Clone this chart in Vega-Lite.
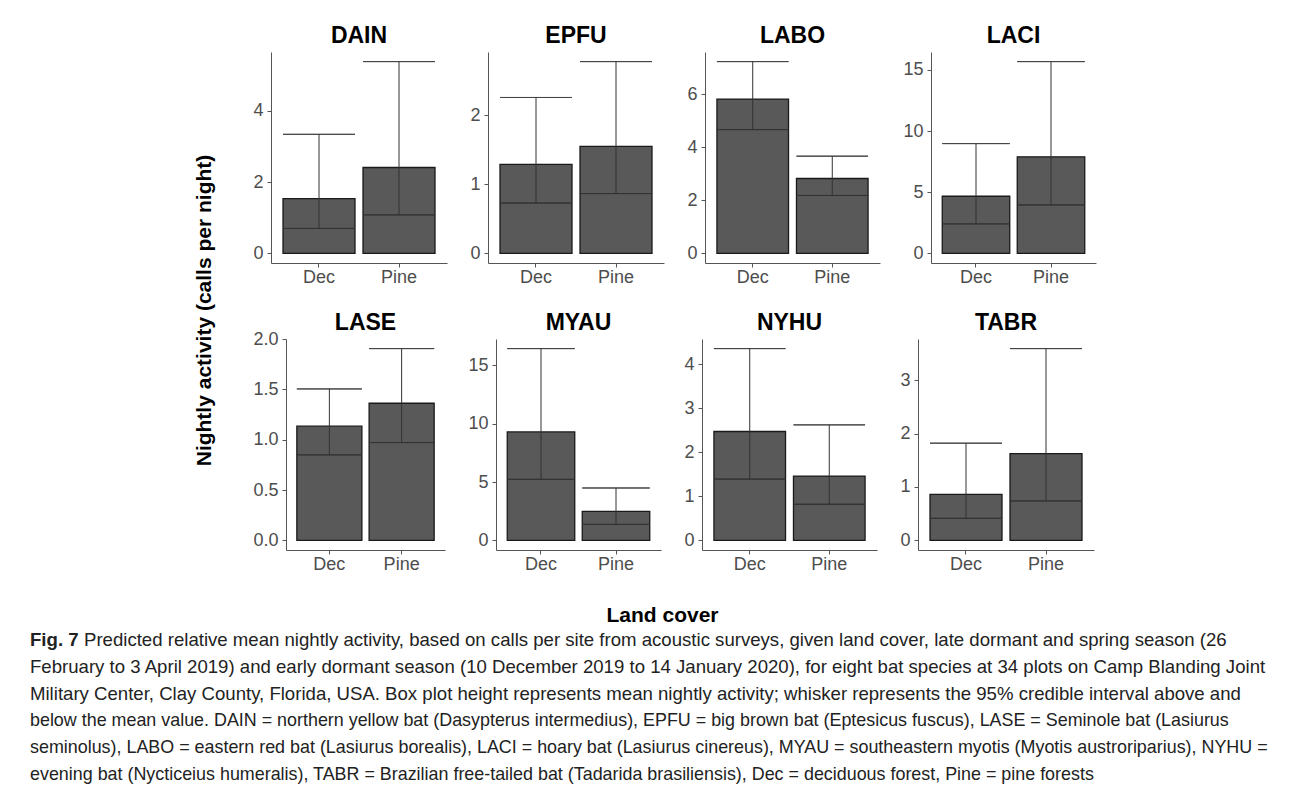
{
  "$schema": "https://vega.github.io/schema/vega-lite/v6.json",
  "background": "white",
  "padding": {"left": 30, "top": 25, "right": 5, "bottom": 0},
  "datasets": {
    "bats": [
      {"species": "DAIN", "cover": "Dec", "mean": 1.535, "lower": 0.70, "upper": 3.34},
      {"species": "DAIN", "cover": "Pine", "mean": 2.41, "lower": 1.08, "upper": 5.38},
      {"species": "EPFU", "cover": "Dec", "mean": 1.29, "lower": 0.73, "upper": 2.26},
      {"species": "EPFU", "cover": "Pine", "mean": 1.55, "lower": 0.867, "upper": 2.78},
      {"species": "LABO", "cover": "Dec", "mean": 5.81, "lower": 4.66, "upper": 7.22},
      {"species": "LABO", "cover": "Pine", "mean": 2.82, "lower": 2.18, "upper": 3.66},
      {"species": "LACI", "cover": "Dec", "mean": 4.67, "lower": 2.41, "upper": 8.97},
      {"species": "LACI", "cover": "Pine", "mean": 7.89, "lower": 3.96, "upper": 15.67},
      {"species": "LASE", "cover": "Dec", "mean": 1.135, "lower": 0.85, "upper": 1.505},
      {"species": "LASE", "cover": "Pine", "mean": 1.363, "lower": 0.972, "upper": 1.906},
      {"species": "MYAU", "cover": "Dec", "mean": 9.29, "lower": 5.23, "upper": 16.43},
      {"species": "MYAU", "cover": "Pine", "mean": 2.49, "lower": 1.37, "upper": 4.49},
      {"species": "NYHU", "cover": "Dec", "mean": 2.47, "lower": 1.39, "upper": 4.35},
      {"species": "NYHU", "cover": "Pine", "mean": 1.46, "lower": 0.82, "upper": 2.62},
      {"species": "TABR", "cover": "Dec", "mean": 0.863, "lower": 0.413, "upper": 1.82},
      {"species": "TABR", "cover": "Pine", "mean": 1.625, "lower": 0.739, "upper": 3.59}
    ],
    "caption": [
      {"line": 1, "text": "Predicted relative mean nightly activity, based on calls per site from acoustic surveys, given land cover, late dormant and spring season (26"},
      {"line": 2, "text": "February to 3 April 2019) and early dormant season (10 December 2019 to 14 January 2020), for eight bat species at 34 plots on Camp Blanding Joint"},
      {"line": 3, "text": "Military Center, Clay County, Florida, USA. Box plot height represents mean nightly activity; whisker represents the 95% credible interval above and"},
      {"line": 4, "text": "below the mean value. DAIN = northern yellow bat (Dasypterus intermedius), EPFU = big brown bat (Eptesicus fuscus), LASE = Seminole bat (Lasiurus"},
      {"line": 5, "text": "seminolus), LABO = eastern red bat (Lasiurus borealis), LACI = hoary bat (Lasiurus cinereus), MYAU = southeastern myotis (Myotis austroriparius), NYHU ="},
      {"line": 6, "text": "evening bat (Nycticeius humeralis), TABR = Brazilian free-tailed bat (Tadarida brasiliensis), Dec = deciduous forest, Pine = pine forests"}
    ],
    "figlabel": [{"line": 1, "text": "Fig. 7"}]
  },
  "center": false,
  "spacing": -2,
  "vconcat": [
    {
      "spacing": 0,
      "hconcat": [
        {"width": 163, "height": 10, "data": {"values": []}, "mark": "point"},
        {
          "title": {"text": "Nightly activity (calls per night)", "orient": "left", "anchor": "middle", "frame": "bounds", "fontSize": 21, "fontWeight": "bold", "font": "Liberation Sans", "color": "black", "offset": -7, "baseline": "bottom", "dx": 15},
          "vconcat": [
            {
              "title": {"text": "Land cover", "orient": "bottom", "anchor": "middle", "frame": "bounds", "fontSize": 21, "fontWeight": "bold", "font": "Liberation Sans", "color": "black", "offset": 32, "baseline": "top"},
              "data": {"name": "bats"},
              "spacing": 26,
              "vconcat": [
                {
                  "spacing": 22,
                  "align": "none",
                  "resolve": {"scale": {"y": "independent", "x": "independent"}},
                  "hconcat": [
                    {"width": 1, "height": 10, "data": {"values": []}, "mark": "point"},
                    {
                      "title": "DAIN", "width": 176, "height": 211,
                      "transform": [{"filter": "datum.species == 'DAIN'"}],
                      "encoding": {"x": {"field": "cover", "type": "nominal", "title": null, "scale": {"paddingInner": 0.1, "paddingOuter": 0.15}, "axis": {"labelAngle": 0, "labelPadding": 1}}},
                      "layer": [
                        {"mark": {"type": "bar", "fill": "#595959", "stroke": "#1a1a1a", "strokeWidth": 1.3},
                         "encoding": {"y": {"field": "mean", "type": "quantitative", "title": null, "scale": {"zero": false, "nice": false, "padding": 9.6}, "axis": {"tickCount": 4, "labelPadding": 4}}, "y2": {"datum": 0}}},
                        {"mark": {"type": "bar", "fill": null, "stroke": "#333333", "strokeWidth": 1}, "encoding": {"y": {"field": "lower", "type": "quantitative"}, "y2": {"field": "lower"}}},
                        {"mark": {"type": "bar", "fill": null, "stroke": "#444444", "strokeWidth": 1}, "encoding": {"y": {"field": "upper", "type": "quantitative"}, "y2": {"field": "upper"}}},
                        {"mark": {"type": "rule", "color": "#333333", "strokeWidth": 1}, "encoding": {"y": {"field": "lower", "type": "quantitative"}, "y2": {"field": "upper"}}}
                      ]
                    },
                    {
                      "title": "EPFU", "width": 176, "height": 211,
                      "transform": [{"filter": "datum.species == 'EPFU'"}],
                      "encoding": {"x": {"field": "cover", "type": "nominal", "title": null, "scale": {"paddingInner": 0.1, "paddingOuter": 0.15}, "axis": {"labelAngle": 0, "labelPadding": 1}}},
                      "layer": [
                        {"mark": {"type": "bar", "fill": "#595959", "stroke": "#1a1a1a", "strokeWidth": 1.3},
                         "encoding": {"y": {"field": "mean", "type": "quantitative", "title": null, "scale": {"zero": false, "nice": false, "padding": 9.6}, "axis": {"tickCount": 4, "labelPadding": 4}}, "y2": {"datum": 0}}},
                        {"mark": {"type": "bar", "fill": null, "stroke": "#333333", "strokeWidth": 1}, "encoding": {"y": {"field": "lower", "type": "quantitative"}, "y2": {"field": "lower"}}},
                        {"mark": {"type": "bar", "fill": null, "stroke": "#444444", "strokeWidth": 1}, "encoding": {"y": {"field": "upper", "type": "quantitative"}, "y2": {"field": "upper"}}},
                        {"mark": {"type": "rule", "color": "#333333", "strokeWidth": 1}, "encoding": {"y": {"field": "lower", "type": "quantitative"}, "y2": {"field": "upper"}}}
                      ]
                    },
                    {
                      "title": "LABO", "width": 175, "height": 211,
                      "transform": [{"filter": "datum.species == 'LABO'"}],
                      "encoding": {"x": {"field": "cover", "type": "nominal", "title": null, "scale": {"paddingInner": 0.1, "paddingOuter": 0.15}, "axis": {"labelAngle": 0, "labelPadding": 1}}},
                      "layer": [
                        {"mark": {"type": "bar", "fill": "#595959", "stroke": "#1a1a1a", "strokeWidth": 1.3},
                         "encoding": {"y": {"field": "mean", "type": "quantitative", "title": null, "scale": {"zero": false, "nice": false, "padding": 9.6}, "axis": {"tickCount": 4, "labelPadding": 4}}, "y2": {"datum": 0}}},
                        {"mark": {"type": "bar", "fill": null, "stroke": "#333333", "strokeWidth": 1}, "encoding": {"y": {"field": "lower", "type": "quantitative"}, "y2": {"field": "lower"}}},
                        {"mark": {"type": "bar", "fill": null, "stroke": "#444444", "strokeWidth": 1}, "encoding": {"y": {"field": "upper", "type": "quantitative"}, "y2": {"field": "upper"}}},
                        {"mark": {"type": "rule", "color": "#333333", "strokeWidth": 1}, "encoding": {"y": {"field": "lower", "type": "quantitative"}, "y2": {"field": "upper"}}}
                      ]
                    },
                    {
                      "title": "LACI", "width": 165, "height": 211,
                      "transform": [{"filter": "datum.species == 'LACI'"}],
                      "encoding": {"x": {"field": "cover", "type": "nominal", "title": null, "scale": {"paddingInner": 0.1, "paddingOuter": 0.15}, "axis": {"labelAngle": 0, "labelPadding": 1}}},
                      "layer": [
                        {"mark": {"type": "bar", "fill": "#595959", "stroke": "#1a1a1a", "strokeWidth": 1.3},
                         "encoding": {"y": {"field": "mean", "type": "quantitative", "title": null, "scale": {"zero": false, "nice": false, "padding": 9.6}, "axis": {"tickCount": 4, "labelPadding": 4}}, "y2": {"datum": 0}}},
                        {"mark": {"type": "bar", "fill": null, "stroke": "#333333", "strokeWidth": 1}, "encoding": {"y": {"field": "lower", "type": "quantitative"}, "y2": {"field": "lower"}}},
                        {"mark": {"type": "bar", "fill": null, "stroke": "#444444", "strokeWidth": 1}, "encoding": {"y": {"field": "upper", "type": "quantitative"}, "y2": {"field": "upper"}}},
                        {"mark": {"type": "rule", "color": "#333333", "strokeWidth": 1}, "encoding": {"y": {"field": "lower", "type": "quantitative"}, "y2": {"field": "upper"}}}
                      ]
                    }
                  ]
                },
                {
                  "spacing": 22,
                  "align": "none",
                  "resolve": {"scale": {"y": "independent", "x": "independent"}},
                  "hconcat": [
                    {"width": 1, "height": 10, "data": {"values": []}, "mark": "point"},
                    {
                      "title": {"text": "LASE", "offset": -5}, "width": 159, "height": 211,
                      "transform": [{"filter": "datum.species == 'LASE'"}],
                      "encoding": {"x": {"field": "cover", "type": "nominal", "title": null, "scale": {"paddingInner": 0.1, "paddingOuter": 0.15}, "axis": {"labelAngle": 0, "labelPadding": 1}}},
                      "layer": [
                        {"mark": {"type": "bar", "fill": "#595959", "stroke": "#1a1a1a", "strokeWidth": 1.3},
                         "encoding": {"y": {"field": "mean", "type": "quantitative", "title": null, "scale": {"zero": false, "nice": false, "padding": 9.6}, "axis": {"tickCount": 4, "labelPadding": 4}}, "y2": {"datum": 0}}},
                        {"mark": {"type": "bar", "fill": null, "stroke": "#333333", "strokeWidth": 1}, "encoding": {"y": {"field": "lower", "type": "quantitative"}, "y2": {"field": "lower"}}},
                        {"mark": {"type": "bar", "fill": null, "stroke": "#444444", "strokeWidth": 1}, "encoding": {"y": {"field": "upper", "type": "quantitative"}, "y2": {"field": "upper"}}},
                        {"mark": {"type": "rule", "color": "#333333", "strokeWidth": 1}, "encoding": {"y": {"field": "lower", "type": "quantitative"}, "y2": {"field": "upper"}}}
                      ]
                    },
                    {
                      "title": "MYAU", "width": 165, "height": 211,
                      "transform": [{"filter": "datum.species == 'MYAU'"}],
                      "encoding": {"x": {"field": "cover", "type": "nominal", "title": null, "scale": {"paddingInner": 0.1, "paddingOuter": 0.15}, "axis": {"labelAngle": 0, "labelPadding": 1}}},
                      "layer": [
                        {"mark": {"type": "bar", "fill": "#595959", "stroke": "#1a1a1a", "strokeWidth": 1.3},
                         "encoding": {"y": {"field": "mean", "type": "quantitative", "title": null, "scale": {"zero": false, "nice": false, "padding": 9.6}, "axis": {"tickCount": 4, "labelPadding": 4}}, "y2": {"datum": 0}}},
                        {"mark": {"type": "bar", "fill": null, "stroke": "#333333", "strokeWidth": 1}, "encoding": {"y": {"field": "lower", "type": "quantitative"}, "y2": {"field": "lower"}}},
                        {"mark": {"type": "bar", "fill": null, "stroke": "#444444", "strokeWidth": 1}, "encoding": {"y": {"field": "upper", "type": "quantitative"}, "y2": {"field": "upper"}}},
                        {"mark": {"type": "rule", "color": "#333333", "strokeWidth": 1}, "encoding": {"y": {"field": "lower", "type": "quantitative"}, "y2": {"field": "upper"}}}
                      ]
                    },
                    {
                      "title": "NYHU", "width": 175, "height": 211,
                      "transform": [{"filter": "datum.species == 'NYHU'"}],
                      "encoding": {"x": {"field": "cover", "type": "nominal", "title": null, "scale": {"paddingInner": 0.1, "paddingOuter": 0.15}, "axis": {"labelAngle": 0, "labelPadding": 1}}},
                      "layer": [
                        {"mark": {"type": "bar", "fill": "#595959", "stroke": "#1a1a1a", "strokeWidth": 1.3},
                         "encoding": {"y": {"field": "mean", "type": "quantitative", "title": null, "scale": {"zero": false, "nice": false, "padding": 9.6}, "axis": {"tickCount": 4, "labelPadding": 4}}, "y2": {"datum": 0}}},
                        {"mark": {"type": "bar", "fill": null, "stroke": "#333333", "strokeWidth": 1}, "encoding": {"y": {"field": "lower", "type": "quantitative"}, "y2": {"field": "lower"}}},
                        {"mark": {"type": "bar", "fill": null, "stroke": "#444444", "strokeWidth": 1}, "encoding": {"y": {"field": "upper", "type": "quantitative"}, "y2": {"field": "upper"}}},
                        {"mark": {"type": "rule", "color": "#333333", "strokeWidth": 1}, "encoding": {"y": {"field": "lower", "type": "quantitative"}, "y2": {"field": "upper"}}}
                      ]
                    },
                    {
                      "title": "TABR", "width": 176, "height": 211,
                      "transform": [{"filter": "datum.species == 'TABR'"}],
                      "encoding": {"x": {"field": "cover", "type": "nominal", "title": null, "scale": {"paddingInner": 0.1, "paddingOuter": 0.15}, "axis": {"labelAngle": 0, "labelPadding": 1}}},
                      "layer": [
                        {"mark": {"type": "bar", "fill": "#595959", "stroke": "#1a1a1a", "strokeWidth": 1.3},
                         "encoding": {"y": {"field": "mean", "type": "quantitative", "title": null, "scale": {"zero": false, "nice": false, "padding": 9.6}, "axis": {"tickCount": 4, "labelPadding": 4}}, "y2": {"datum": 0}}},
                        {"mark": {"type": "bar", "fill": null, "stroke": "#333333", "strokeWidth": 1}, "encoding": {"y": {"field": "lower", "type": "quantitative"}, "y2": {"field": "lower"}}},
                        {"mark": {"type": "bar", "fill": null, "stroke": "#444444", "strokeWidth": 1}, "encoding": {"y": {"field": "upper", "type": "quantitative"}, "y2": {"field": "upper"}}},
                        {"mark": {"type": "rule", "color": "#333333", "strokeWidth": 1}, "encoding": {"y": {"field": "lower", "type": "quantitative"}, "y2": {"field": "upper"}}}
                      ]
                    }
                  ]
                }
              ]
            }
          ]
        }
      ]
    },
    {
      "width": 1255,
      "height": 162,
      "layer": [
        {
          "data": {"name": "figlabel"},
          "mark": {"type": "text", "align": "left", "baseline": "middle", "font": "Liberation Sans", "fontSize": 18.6, "fontWeight": "bold", "color": "#222"},
          "encoding": {
            "y": {"field": "line", "type": "ordinal", "axis": null, "scale": {"domain": [1, 2, 3, 4, 5, 6], "paddingInner": 0, "paddingOuter": 0}},
            "x": {"datum": 0, "type": "quantitative", "scale": {"domain": [0, 1]}, "axis": null},
            "text": {"field": "text"}
          }
        },
        {
          "data": {"name": "caption"},
          "transform": [{"filter": "datum.line == 1"}],
          "mark": {"type": "text", "align": "left", "baseline": "middle", "font": "Liberation Sans", "fontSize": 18.6, "color": "#222", "dx": 54},
          "encoding": {
            "y": {"field": "line", "type": "ordinal", "axis": null},
            "x": {"datum": 0, "type": "quantitative", "axis": null},
            "text": {"field": "text"}
          }
        },
        {
          "data": {"name": "caption"},
          "transform": [{"filter": "datum.line == 2 || datum.line == 3"}],
          "mark": {"type": "text", "align": "left", "baseline": "middle", "font": "Liberation Sans", "fontSize": 18.6, "color": "#222"},
          "encoding": {
            "y": {"field": "line", "type": "ordinal", "axis": null},
            "x": {"datum": 0, "type": "quantitative", "axis": null},
            "text": {"field": "text"}
          }
        },
        {
          "data": {"name": "caption"},
          "transform": [{"filter": "datum.line >= 4"}],
          "mark": {"type": "text", "align": "left", "baseline": "middle", "font": "Liberation Sans", "fontSize": 17.9, "color": "#222"},
          "encoding": {
            "y": {"field": "line", "type": "ordinal", "axis": null},
            "x": {"datum": 0, "type": "quantitative", "axis": null},
            "text": {"field": "text"}
          }
        }
      ]
    }
  ],
  "config": {
    "view": {"stroke": null},
    "title": {"font": "Liberation Sans", "fontSize": 23, "fontWeight": "bold", "color": "black", "baseline": "alphabetic", "offset": 4, "anchor": "middle", "frame": "group"},
    "axis": {
      "grid": false,
      "labelFont": "Liberation Sans",
      "labelFontSize": 18,
      "labelColor": "#4D4D4D",
      "domainColor": "#555555",
      "tickColor": "#555555",
      "tickSize": 4
    }
  }
}
